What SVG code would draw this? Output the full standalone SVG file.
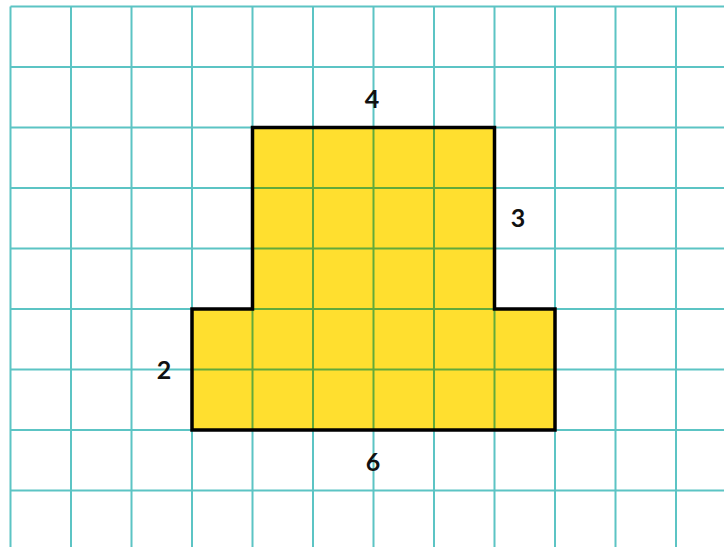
<svg xmlns="http://www.w3.org/2000/svg" width="724" height="547" viewBox="0 0 724 547">
<style>
.g{stroke:#5cc4c4;stroke-width:2;fill:none}
.gi{stroke:#62aa3a;stroke-width:2;fill:none}
.lbl{font-family:Lato,"Liberation Sans",sans-serif;font-weight:bold;font-size:25px;fill:#111;text-anchor:middle}
</style>
<defs>
<clipPath id="shp"><path d="M192 309H252.5V127.5H494.5V309H555V430H192Z"/></clipPath>
</defs>
<rect width="724" height="547" fill="#fff"/>
<g id="grid">
<path class="g" d="M10.5 6.5V547M71 6.5V547M131.5 6.5V547M192 6.5V547M252.5 6.5V547M313 6.5V547M373.5 6.5V547M434 6.5V547M494.5 6.5V547M555 6.5V547M615.5 6.5V547M676 6.5V547"/>
<path class="g" d="M10.5 6.5H724M10.5 67H724M10.5 127.5H724M10.5 188H724M10.5 248.5H724M10.5 309H724M10.5 369.5H724M10.5 430H724M10.5 490.5H724"/>
</g>
<g id="shape">
<path d="M192 309H252.5V127.5H494.5V309H555V430H192Z" fill="#ffdf2f"/>
<g clip-path="url(#shp)">
<path class="gi" d="M252.5 0V547M313 0V547M373.5 0V547M434 0V547M494.5 0V547M0 188H724M0 248.5H724M0 309H724M0 369.5H724"/>
</g>
<path d="M192 309H252.5V127.5H494.5V309H555V430H192Z" fill="none" stroke="#000" stroke-width="3.5"/>
</g>
<g id="labels">
<text class="lbl" x="372" y="108">4</text>
<text class="lbl" x="518" y="227">3</text>
<text class="lbl" x="164" y="379">2</text>
<text class="lbl" x="373" y="471">6</text>
</g>
</svg>
